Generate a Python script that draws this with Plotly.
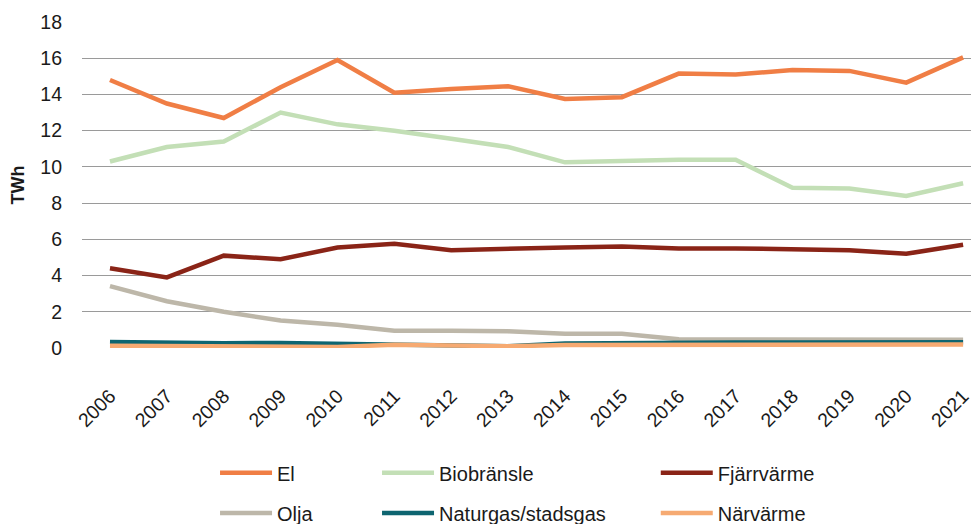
import plotly.graph_objects as go

years = [str(y) for y in range(2006, 2022)]
el = [14.8, 13.5, 12.7, 14.4, 15.9, 14.1, 14.3, 14.45, 13.75, 13.85, 15.15, 15.1, 15.35, 15.3, 14.65, 16.05]
bio = [10.3, 11.1, 11.4, 13.0, 12.35, 12.0, 11.55, 11.1, 10.25, 10.35, 10.4, 10.4, 8.85, 8.8, 8.4, 9.1]
fjarr = [4.4, 3.9, 5.1, 4.9, 5.55, 5.75, 5.4, 5.5, 5.55, 5.6, 5.5, 5.5, 5.45, 5.4, 5.2, 5.7]
olja = [3.42, 2.58, 2.0, 1.52, 1.28, 0.95, 0.95, 0.92, 0.78, 0.78, 0.48, 0.48, 0.48, 0.47, 0.46, 0.46]
naturgas = [0.33, 0.27, 0.26, 0.28, 0.24, 0.16, 0.15, 0.1, 0.25, 0.28, 0.3, 0.3, 0.3, 0.3, 0.3, 0.32]
narv = [0.12, 0.12, 0.12, 0.12, 0.06, 0.18, 0.14, 0.1, 0.16, 0.16, 0.18, 0.18, 0.18, 0.18, 0.18, 0.2]
yticks = [0, 2, 4, 6, 8, 10, 12, 14, 16, 18]

series = [
    ("El", el, "#F07E45"),
    ("Biobränsle", bio, "#C3DFB6"),
    ("Fjärrvärme", fjarr, "#8A2417"),
    ("Olja", olja, "#BDB7A9"),
    ("Naturgas/stadsgas", naturgas, "#0E6570"),
    ("Närvärme", narv, "#F6AA72"),
]
# legend positions (paper coords) per series
leg_pos = [(0.147, -0.383), (0.326, -0.383), (0.634, -0.383),
           (0.147, -0.506), (0.326, -0.506), (0.634, -0.506)]

FONT = "Liberation Sans, Arial, sans-serif"

fig = go.Figure()
layout_legends = {}
for i, (name, vals, col) in enumerate(series):
    lname = "legend" if i == 0 else f"legend{i+1}"
    fig.add_trace(go.Scatter(x=list(range(2006, 2022)), y=vals, name=name, mode="lines",
                             line=dict(color=col, width=4.5), legend=lname, showlegend=True))
    layout_legends[lname] = dict(
        x=leg_pos[i][0], y=leg_pos[i][1], xanchor="left", yanchor="middle",
        orientation="h", itemwidth=52, bgcolor="rgba(0,0,0,0)",
        font=dict(family=FONT, size=20, color="#1a1a1a"),
    )

fig.update_layout(
    width=979, height=560,
    showlegend=True,
    margin=dict(l=74, r=0, t=14, b=220),
    paper_bgcolor="white", plot_bgcolor="white",
    font=dict(family=FONT, size=19.5, color="#1a1a1a"),
    xaxis=dict(
        range=[2005.508, 2021.42], tickmode="array",
        tickvals=list(range(2006, 2022)), ticktext=years,
        tickangle=-45, showgrid=False, zeroline=False, showline=False,
        ticks="", ticklen=0, ticklabelstandoff=32, automargin=False,
    ),
    yaxis=dict(
        range=[0, 18], tickvals=yticks, showgrid=True, gridcolor="#9a9a9a",
        gridwidth=1, zeroline=False, showline=False, ticks="",
        ticklabelstandoff=19, automargin=False,
        title=dict(text="<b>TWh</b>", standoff=12, font=dict(size=18)),
    ),
    **layout_legends,
)
fig.write_html("out.html")
